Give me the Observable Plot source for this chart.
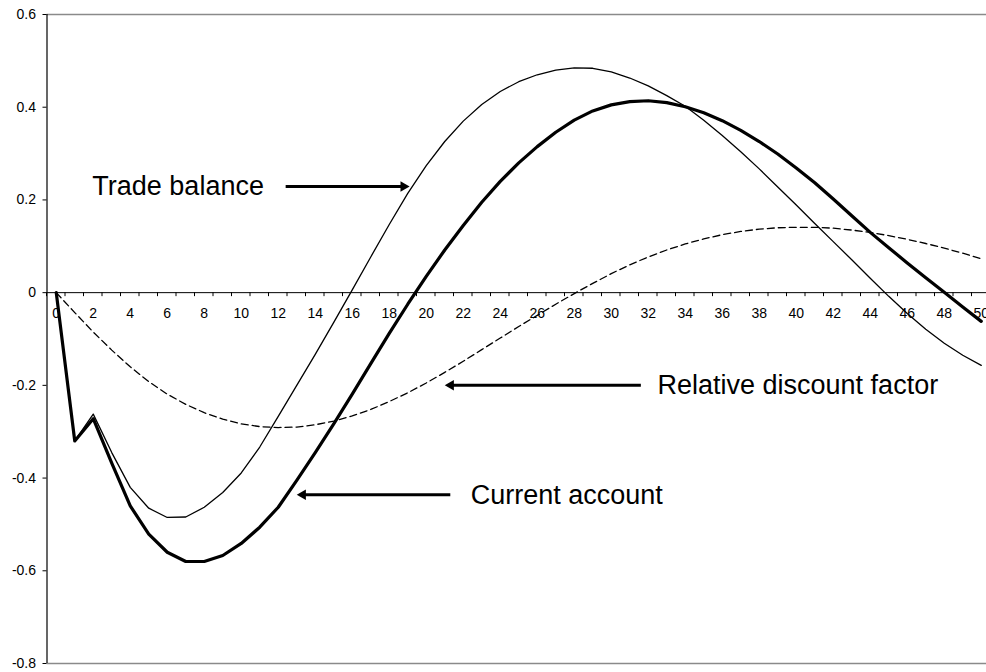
<!DOCTYPE html>
<html>
<head>
<meta charset="utf-8">
<script src="https://cdn.jsdelivr.net/npm/d3@7"></script>
<script src="https://cdn.jsdelivr.net/npm/@observablehq/plot@0.6"></script>
<style>
  html, body { margin: 0; padding: 0; background: white; overflow: hidden; }
  #chart { width: 986px; height: 672px; overflow: hidden; }
</style>
</head>
<body>
<div id="chart"></div>
<script>
// ---- Data ----
const periods = [0,1,2,3,4,5,6,7,8,9,10,11,12,13,14,15,16,17,18,19,20,21,22,23,24,25,26,27,28,29,30,31,32,33,34,35,36,37,38,39,40,41,42,43,44,45,46,47,48,49,50];

const tradeBalance = [0,-0.320,-0.262,-0.345,-0.420,-0.465,-0.485,-0.484,-0.463,-0.431,-0.389,-0.333,-0.267,-0.200,-0.133,-0.064,0.006,0.077,0.147,0.214,0.274,0.326,0.370,0.406,0.434,0.455,0.470,0.480,0.485,0.484,0.476,0.463,0.446,0.425,0.402,0.372,0.339,0.304,0.267,0.228,0.189,0.149,0.110,0.071,0.031,-0.008,-0.045,-0.079,-0.109,-0.135,-0.157];

const currentAccount = [0,-0.320,-0.272,-0.368,-0.460,-0.521,-0.560,-0.580,-0.580,-0.567,-0.541,-0.506,-0.463,-0.405,-0.345,-0.283,-0.219,-0.153,-0.088,-0.025,0.035,0.092,0.145,0.195,0.240,0.280,0.315,0.346,0.372,0.392,0.405,0.412,0.414,0.410,0.401,0.388,0.371,0.350,0.326,0.299,0.269,0.237,0.202,0.166,0.130,0.097,0.064,0.032,0.001,-0.031,-0.062];

const discountFactor = [0,-0.043,-0.085,-0.124,-0.160,-0.192,-0.219,-0.241,-0.259,-0.273,-0.283,-0.289,-0.291,-0.290,-0.285,-0.277,-0.266,-0.252,-0.235,-0.216,-0.195,-0.172,-0.148,-0.123,-0.098,-0.073,-0.049,-0.025,-0.002,0.020,0.041,0.060,0.077,0.092,0.105,0.116,0.125,0.132,0.137,0.140,0.141,0.141,0.139,0.135,0.130,0.123,0.115,0.106,0.096,0.085,0.073];

const xTickLabels = [0,2,4,6,8,10,12,14,16,18,20,22,24,26,28,30,32,34,36,38,40,42,44,46,48,50];
const yTicks = [-0.8,-0.6,-0.4,-0.2,0,0.2,0.4,0.6];
const yTickLabels = ["-0.8","-0.6","-0.4","-0.2","0","0.2","0.4","0.6"];

// annotation texts and arrows (data coordinates)
const annotations = [
  {label: "Trade balance", tx: 1.95, ty: 0.229, from: 12.4, to: 19.1, ay: 0.229},
  {label: "Relative discount factor", tx: 32.5, ty: -0.200, from: 31.6, to: 21.0, ay: -0.200},
  {label: "Current account", tx: 22.4, ty: -0.437, from: 21.3, to: 13.0, ay: -0.436}
];

// ---- Build tables ----
const tbData = periods.map((t, i) => ({t, v: tradeBalance[i]}));
const caData = periods.map((t, i) => ({t, v: currentAccount[i]}));
const dfData = periods.map((t, i) => ({t, v: discountFactor[i]}));
const minorTicks = periods.map(t => t + 0.5).concat([-0.5]);

const font = "'Liberation Sans', Arial, Helvetica, sans-serif";

// x tick marks drawn below the zero line using Plot's scales
function xTickMarks(index, scales) {
  const g = d3.create("svg:g");
  const y0 = scales.y(0);
  for (const t of minorTicks) {
    g.append("line")
      .attr("x1", scales.x(t)).attr("x2", scales.x(t))
      .attr("y1", y0).attr("y2", y0 + 4)
      .attr("stroke", "black").attr("stroke-width", 1);
  }
  return g.node();
}

const chart = Plot.plot({
  width: 986,
  height: 672,
  marginLeft: 46.5,
  marginRight: 0,
  marginTop: 14,
  marginBottom: 9,
  style: {fontFamily: font, background: "white", color: "black"},
  x: {type: "linear", domain: [-0.5, 50.5], range: [46.5, 990], axis: null},
  y: {domain: [-0.8, 0.6], axis: null},
  marks: [
    Plot.ruleY([0.6, -0.8], {x1: -0.5, x2: 50.5, stroke: "#8a8a8a", strokeWidth: 1.3}),
    Plot.ruleY([0], {x1: -0.5, x2: 50.5, stroke: "black", strokeWidth: 1}),
    xTickMarks,
    Plot.text(xTickLabels, {x: d => d, y: 0, dy: 21, text: d => String(d), fontSize: 14, fill: "black"}),
    Plot.ruleX([-0.5], {y1: -0.8, y2: 0.6, stroke: "black", strokeWidth: 1.2}),
    Plot.axisY({ticks: yTicks, tickSize: 4, tickPadding: 7, fontSize: 14,
      tickFormat: d => yTickLabels[yTicks.indexOf(d)], stroke: "black", fill: "black"}),
    Plot.line(dfData, {x: "t", y: "v", stroke: "black", strokeWidth: 1.3, strokeDasharray: "7,4"}),
    Plot.line(tbData, {x: "t", y: "v", stroke: "black", strokeWidth: 1.3}),
    Plot.line(caData, {x: "t", y: "v", stroke: "black", strokeWidth: 3.2}),
    // annotation arrows
    Plot.arrow(annotations, {x1: "from", x2: "to", y1: "ay", y2: "ay", headLength: 0, insetEnd: 7, stroke: "black", strokeWidth: 3, strokeLinecap: "butt"}),
    Plot.dot(annotations, {x: "to", y: "ay", symbol: "triangle", r: 3.9, fill: "black", stroke: "none",
      rotate: d => (d.to > d.from ? 90 : -90)}),
    Plot.text(annotations, {x: "tx", y: "ty", text: "label", textAnchor: "start", lineAnchor: "middle", fontSize: 27, fill: "black"})
  ]
});

document.getElementById("chart").appendChild(chart);

// shift arrowhead triangles so their tips sit exactly at the arrow end
d3.select(chart).selectAll("[aria-label='dot'] path").each(function(_, i) {
  const a = annotations[i];
  const r = 3.9, size = Math.PI * r * r;
  const h = 2 * Math.sqrt(size / (3 * Math.sqrt(3)));
  const el = d3.select(this);
  const tr = el.attr("transform") || "";
  const shift = a.to > a.from ? -h : h;
  el.attr("transform", `translate(${shift},0) ` + tr);
});
</script>
</body>
</html>
